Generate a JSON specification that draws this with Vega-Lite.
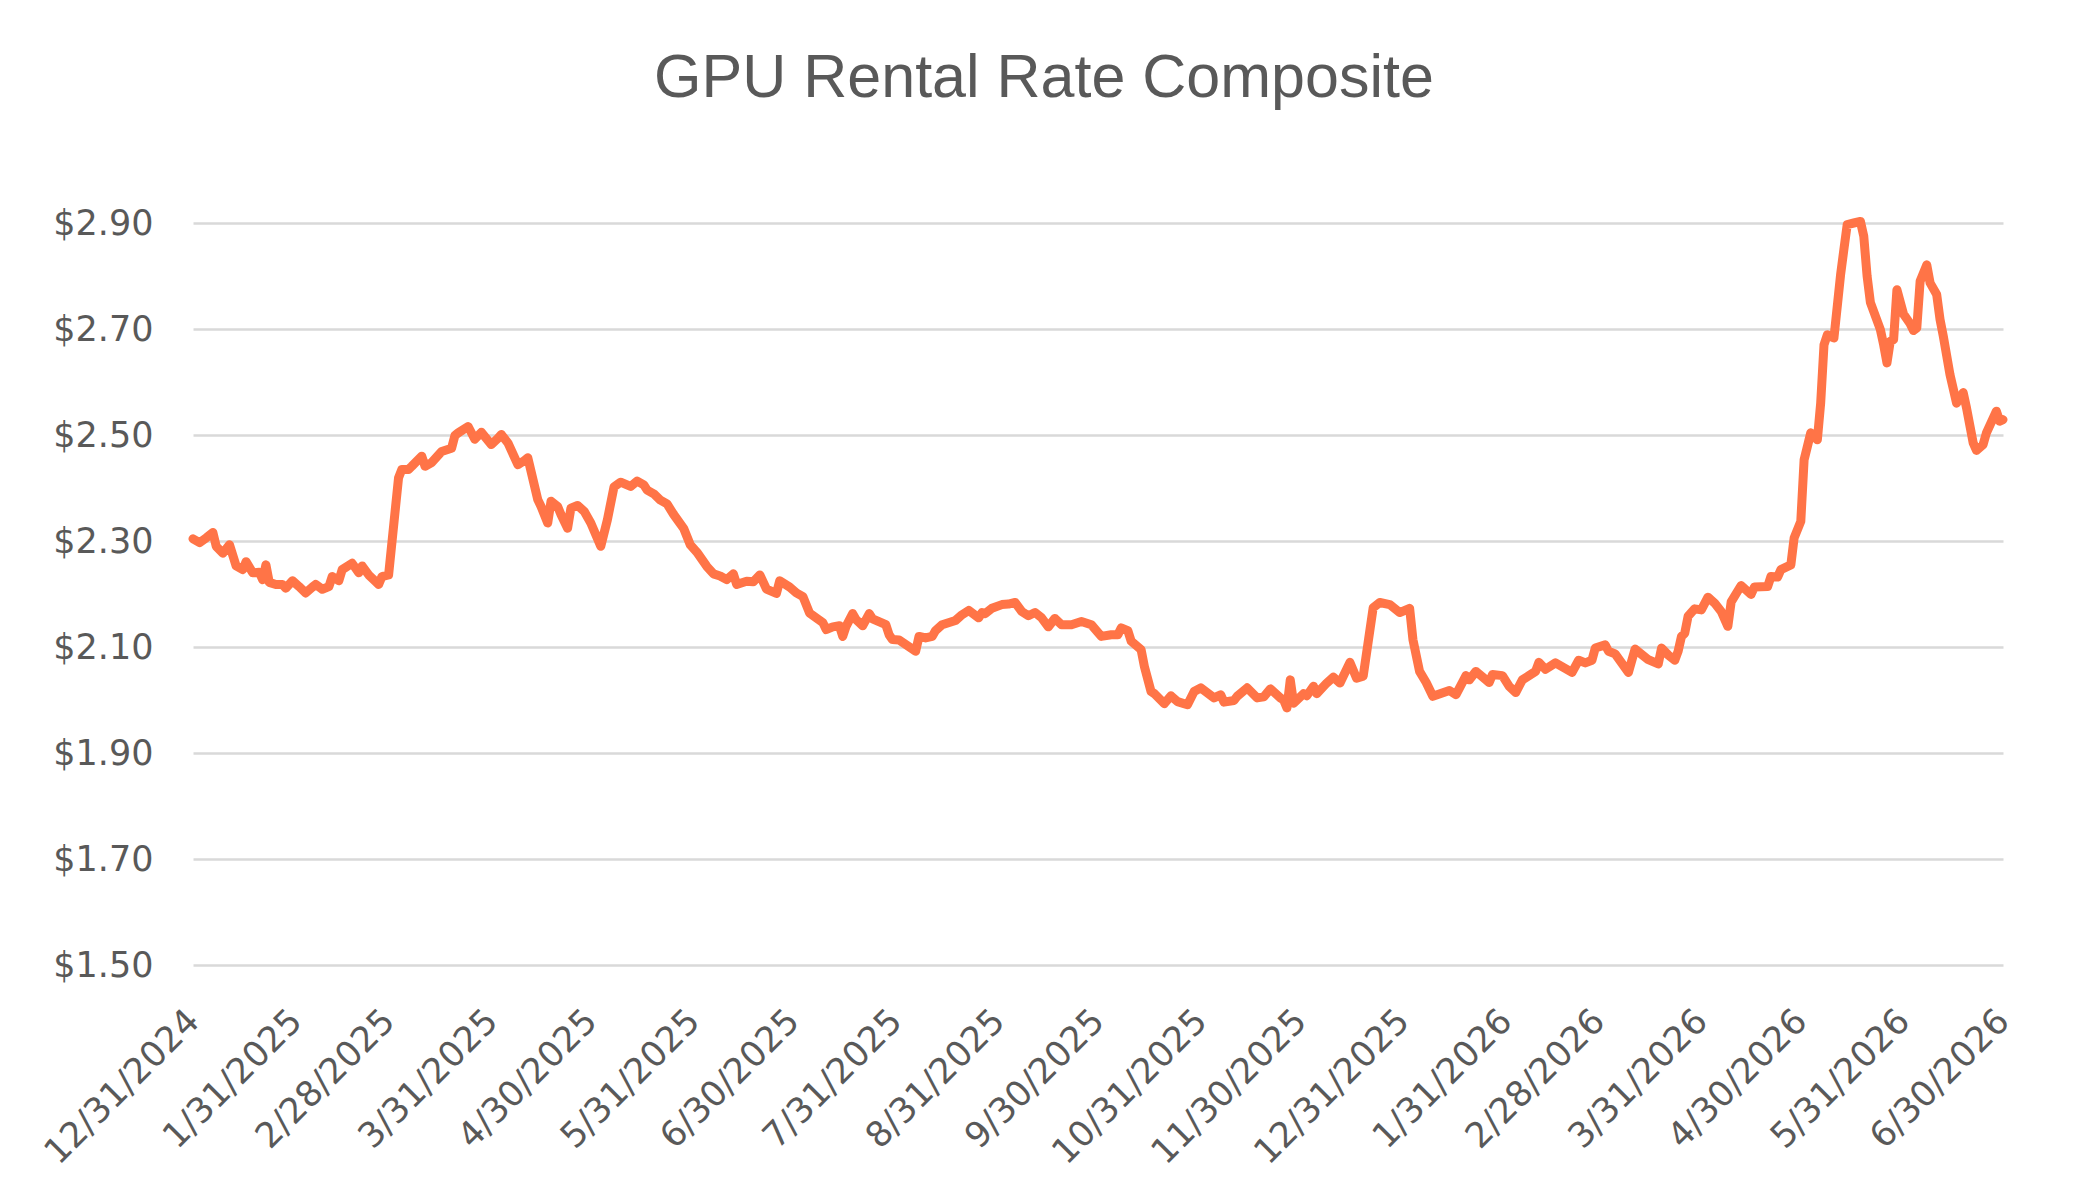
{
  "$schema": "https://vega.github.io/schema/vega-lite/v6.json",
  "width": 1810,
  "height": 742,
  "autosize": {"type": "none"},
  "padding": {"left": 193, "top": 223, "right": 85, "bottom": 236},
  "background": "white",
  "title": {
    "text": "GPU Rental Rate Composite",
    "font": "Liberation Sans",
    "fontSize": 61,
    "fontWeight": "normal",
    "color": "#595959",
    "anchor": "middle",
    "dx": -54,
    "offset": 96
  },
  "data": {
    "values": [
      {"date": "2024-12-31", "rate": 2.304},
      {"date": "2025-01-02", "rate": 2.297},
      {"date": "2025-01-04", "rate": 2.306},
      {"date": "2025-01-06", "rate": 2.316},
      {"date": "2025-01-07", "rate": 2.290},
      {"date": "2025-01-09", "rate": 2.277},
      {"date": "2025-01-11", "rate": 2.293},
      {"date": "2025-01-13", "rate": 2.253},
      {"date": "2025-01-15", "rate": 2.246},
      {"date": "2025-01-16", "rate": 2.261},
      {"date": "2025-01-18", "rate": 2.240},
      {"date": "2025-01-20", "rate": 2.241},
      {"date": "2025-01-21", "rate": 2.227},
      {"date": "2025-01-22", "rate": 2.255},
      {"date": "2025-01-23", "rate": 2.222},
      {"date": "2025-01-25", "rate": 2.218},
      {"date": "2025-01-27", "rate": 2.218},
      {"date": "2025-01-28", "rate": 2.211},
      {"date": "2025-01-30", "rate": 2.225},
      {"date": "2025-02-01", "rate": 2.214},
      {"date": "2025-02-03", "rate": 2.202},
      {"date": "2025-02-05", "rate": 2.213},
      {"date": "2025-02-06", "rate": 2.218},
      {"date": "2025-02-08", "rate": 2.209},
      {"date": "2025-02-10", "rate": 2.214},
      {"date": "2025-02-11", "rate": 2.233},
      {"date": "2025-02-13", "rate": 2.225},
      {"date": "2025-02-14", "rate": 2.246},
      {"date": "2025-02-17", "rate": 2.258},
      {"date": "2025-02-19", "rate": 2.240},
      {"date": "2025-02-20", "rate": 2.253},
      {"date": "2025-02-22", "rate": 2.236},
      {"date": "2025-02-24", "rate": 2.224},
      {"date": "2025-02-25", "rate": 2.218},
      {"date": "2025-02-26", "rate": 2.233},
      {"date": "2025-02-28", "rate": 2.236},
      {"date": "2025-03-03", "rate": 2.419},
      {"date": "2025-03-04", "rate": 2.435},
      {"date": "2025-03-06", "rate": 2.435},
      {"date": "2025-03-07", "rate": 2.441},
      {"date": "2025-03-10", "rate": 2.460},
      {"date": "2025-03-11", "rate": 2.441},
      {"date": "2025-03-13", "rate": 2.448},
      {"date": "2025-03-16", "rate": 2.469},
      {"date": "2025-03-19", "rate": 2.475},
      {"date": "2025-03-20", "rate": 2.499},
      {"date": "2025-03-21", "rate": 2.504},
      {"date": "2025-03-24", "rate": 2.516},
      {"date": "2025-03-26", "rate": 2.492},
      {"date": "2025-03-28", "rate": 2.505},
      {"date": "2025-03-31", "rate": 2.482},
      {"date": "2025-04-02", "rate": 2.494},
      {"date": "2025-04-03", "rate": 2.501},
      {"date": "2025-04-05", "rate": 2.485},
      {"date": "2025-04-08", "rate": 2.444},
      {"date": "2025-04-10", "rate": 2.452},
      {"date": "2025-04-11", "rate": 2.457},
      {"date": "2025-04-14", "rate": 2.378},
      {"date": "2025-04-15", "rate": 2.365},
      {"date": "2025-04-17", "rate": 2.334},
      {"date": "2025-04-18", "rate": 2.375},
      {"date": "2025-04-20", "rate": 2.365},
      {"date": "2025-04-21", "rate": 2.350},
      {"date": "2025-04-23", "rate": 2.324},
      {"date": "2025-04-24", "rate": 2.362},
      {"date": "2025-04-26", "rate": 2.367},
      {"date": "2025-04-28", "rate": 2.356},
      {"date": "2025-04-30", "rate": 2.334},
      {"date": "2025-05-03", "rate": 2.290},
      {"date": "2025-05-05", "rate": 2.340},
      {"date": "2025-05-07", "rate": 2.402},
      {"date": "2025-05-09", "rate": 2.411},
      {"date": "2025-05-12", "rate": 2.403},
      {"date": "2025-05-14", "rate": 2.413},
      {"date": "2025-05-16", "rate": 2.406},
      {"date": "2025-05-17", "rate": 2.396},
      {"date": "2025-05-19", "rate": 2.389},
      {"date": "2025-05-21", "rate": 2.377},
      {"date": "2025-05-23", "rate": 2.370},
      {"date": "2025-05-25", "rate": 2.350},
      {"date": "2025-05-28", "rate": 2.324},
      {"date": "2025-05-30", "rate": 2.293},
      {"date": "2025-06-01", "rate": 2.279},
      {"date": "2025-06-04", "rate": 2.252},
      {"date": "2025-06-06", "rate": 2.238},
      {"date": "2025-06-08", "rate": 2.234},
      {"date": "2025-06-10", "rate": 2.227},
      {"date": "2025-06-12", "rate": 2.238},
      {"date": "2025-06-13", "rate": 2.218},
      {"date": "2025-06-16", "rate": 2.224},
      {"date": "2025-06-18", "rate": 2.223},
      {"date": "2025-06-20", "rate": 2.236},
      {"date": "2025-06-22", "rate": 2.209},
      {"date": "2025-06-25", "rate": 2.201},
      {"date": "2025-06-26", "rate": 2.225},
      {"date": "2025-06-29", "rate": 2.213},
      {"date": "2025-07-01", "rate": 2.202},
      {"date": "2025-07-03", "rate": 2.195},
      {"date": "2025-07-05", "rate": 2.164},
      {"date": "2025-07-07", "rate": 2.155},
      {"date": "2025-07-09", "rate": 2.146},
      {"date": "2025-07-10", "rate": 2.133},
      {"date": "2025-07-12", "rate": 2.138},
      {"date": "2025-07-14", "rate": 2.140},
      {"date": "2025-07-15", "rate": 2.120},
      {"date": "2025-07-16", "rate": 2.139},
      {"date": "2025-07-18", "rate": 2.163},
      {"date": "2025-07-19", "rate": 2.152},
      {"date": "2025-07-21", "rate": 2.140},
      {"date": "2025-07-23", "rate": 2.163},
      {"date": "2025-07-24", "rate": 2.153},
      {"date": "2025-07-28", "rate": 2.142},
      {"date": "2025-07-29", "rate": 2.123},
      {"date": "2025-07-30", "rate": 2.114},
      {"date": "2025-08-01", "rate": 2.113},
      {"date": "2025-08-06", "rate": 2.092},
      {"date": "2025-08-07", "rate": 2.120},
      {"date": "2025-08-09", "rate": 2.117},
      {"date": "2025-08-11", "rate": 2.120},
      {"date": "2025-08-12", "rate": 2.131},
      {"date": "2025-08-14", "rate": 2.142},
      {"date": "2025-08-18", "rate": 2.150},
      {"date": "2025-08-20", "rate": 2.161},
      {"date": "2025-08-22", "rate": 2.169},
      {"date": "2025-08-25", "rate": 2.155},
      {"date": "2025-08-26", "rate": 2.165},
      {"date": "2025-08-27", "rate": 2.163},
      {"date": "2025-08-29", "rate": 2.173},
      {"date": "2025-09-01", "rate": 2.180},
      {"date": "2025-09-03", "rate": 2.181},
      {"date": "2025-09-05", "rate": 2.184},
      {"date": "2025-09-07", "rate": 2.167},
      {"date": "2025-09-09", "rate": 2.159},
      {"date": "2025-09-11", "rate": 2.165},
      {"date": "2025-09-13", "rate": 2.155},
      {"date": "2025-09-15", "rate": 2.138},
      {"date": "2025-09-17", "rate": 2.154},
      {"date": "2025-09-19", "rate": 2.142},
      {"date": "2025-09-22", "rate": 2.142},
      {"date": "2025-09-25", "rate": 2.148},
      {"date": "2025-09-28", "rate": 2.142},
      {"date": "2025-10-01", "rate": 2.120},
      {"date": "2025-10-04", "rate": 2.123},
      {"date": "2025-10-06", "rate": 2.123},
      {"date": "2025-10-07", "rate": 2.136},
      {"date": "2025-10-09", "rate": 2.131},
      {"date": "2025-10-10", "rate": 2.111},
      {"date": "2025-10-13", "rate": 2.095},
      {"date": "2025-10-14", "rate": 2.063},
      {"date": "2025-10-16", "rate": 2.016},
      {"date": "2025-10-17", "rate": 2.012},
      {"date": "2025-10-20", "rate": 1.993},
      {"date": "2025-10-22", "rate": 2.008},
      {"date": "2025-10-24", "rate": 1.997},
      {"date": "2025-10-27", "rate": 1.991},
      {"date": "2025-10-29", "rate": 2.016},
      {"date": "2025-10-31", "rate": 2.023},
      {"date": "2025-11-04", "rate": 2.004},
      {"date": "2025-11-06", "rate": 2.010},
      {"date": "2025-11-07", "rate": 1.996},
      {"date": "2025-11-10", "rate": 1.999},
      {"date": "2025-11-11", "rate": 2.007},
      {"date": "2025-11-14", "rate": 2.023},
      {"date": "2025-11-17", "rate": 2.004},
      {"date": "2025-11-19", "rate": 2.006},
      {"date": "2025-11-21", "rate": 2.021},
      {"date": "2025-11-24", "rate": 2.004},
      {"date": "2025-11-25", "rate": 2.000},
      {"date": "2025-11-26", "rate": 1.985},
      {"date": "2025-11-27", "rate": 2.038},
      {"date": "2025-11-28", "rate": 1.994},
      {"date": "2025-12-01", "rate": 2.012},
      {"date": "2025-12-02", "rate": 2.008},
      {"date": "2025-12-04", "rate": 2.026},
      {"date": "2025-12-05", "rate": 2.012},
      {"date": "2025-12-08", "rate": 2.032},
      {"date": "2025-12-10", "rate": 2.043},
      {"date": "2025-12-12", "rate": 2.032},
      {"date": "2025-12-15", "rate": 2.071},
      {"date": "2025-12-17", "rate": 2.041},
      {"date": "2025-12-19", "rate": 2.045},
      {"date": "2025-12-22", "rate": 2.174},
      {"date": "2025-12-24", "rate": 2.184},
      {"date": "2025-12-27", "rate": 2.180},
      {"date": "2025-12-30", "rate": 2.165},
      {"date": "2026-01-02", "rate": 2.173},
      {"date": "2026-01-03", "rate": 2.114},
      {"date": "2026-01-05", "rate": 2.054},
      {"date": "2026-01-07", "rate": 2.033},
      {"date": "2026-01-09", "rate": 2.007},
      {"date": "2026-01-14", "rate": 2.018},
      {"date": "2026-01-16", "rate": 2.010},
      {"date": "2026-01-19", "rate": 2.046},
      {"date": "2026-01-20", "rate": 2.038},
      {"date": "2026-01-22", "rate": 2.054},
      {"date": "2026-01-26", "rate": 2.033},
      {"date": "2026-01-27", "rate": 2.048},
      {"date": "2026-01-30", "rate": 2.046},
      {"date": "2026-02-01", "rate": 2.026},
      {"date": "2026-02-03", "rate": 2.014},
      {"date": "2026-02-05", "rate": 2.038},
      {"date": "2026-02-07", "rate": 2.046},
      {"date": "2026-02-09", "rate": 2.054},
      {"date": "2026-02-10", "rate": 2.071},
      {"date": "2026-02-12", "rate": 2.058},
      {"date": "2026-02-15", "rate": 2.070},
      {"date": "2026-02-20", "rate": 2.052},
      {"date": "2026-02-22", "rate": 2.075},
      {"date": "2026-02-24", "rate": 2.070},
      {"date": "2026-02-26", "rate": 2.075},
      {"date": "2026-02-27", "rate": 2.098},
      {"date": "2026-03-02", "rate": 2.104},
      {"date": "2026-03-03", "rate": 2.092},
      {"date": "2026-03-05", "rate": 2.087},
      {"date": "2026-03-09", "rate": 2.052},
      {"date": "2026-03-11", "rate": 2.096},
      {"date": "2026-03-15", "rate": 2.076},
      {"date": "2026-03-18", "rate": 2.068},
      {"date": "2026-03-19", "rate": 2.098},
      {"date": "2026-03-21", "rate": 2.085},
      {"date": "2026-03-23", "rate": 2.075},
      {"date": "2026-03-24", "rate": 2.092},
      {"date": "2026-03-25", "rate": 2.120},
      {"date": "2026-03-26", "rate": 2.126},
      {"date": "2026-03-27", "rate": 2.158},
      {"date": "2026-03-29", "rate": 2.172},
      {"date": "2026-03-31", "rate": 2.170},
      {"date": "2026-04-02", "rate": 2.194},
      {"date": "2026-04-04", "rate": 2.183},
      {"date": "2026-04-06", "rate": 2.167},
      {"date": "2026-04-08", "rate": 2.139},
      {"date": "2026-04-09", "rate": 2.185},
      {"date": "2026-04-12", "rate": 2.216},
      {"date": "2026-04-15", "rate": 2.199},
      {"date": "2026-04-16", "rate": 2.213},
      {"date": "2026-04-20", "rate": 2.214},
      {"date": "2026-04-21", "rate": 2.233},
      {"date": "2026-04-23", "rate": 2.232},
      {"date": "2026-04-24", "rate": 2.246},
      {"date": "2026-04-27", "rate": 2.255},
      {"date": "2026-04-28", "rate": 2.306},
      {"date": "2026-04-30", "rate": 2.337},
      {"date": "2026-05-01", "rate": 2.453},
      {"date": "2026-05-03", "rate": 2.504},
      {"date": "2026-05-05", "rate": 2.491},
      {"date": "2026-05-06", "rate": 2.560},
      {"date": "2026-05-07", "rate": 2.670},
      {"date": "2026-05-08", "rate": 2.689},
      {"date": "2026-05-10", "rate": 2.683},
      {"date": "2026-05-12", "rate": 2.802},
      {"date": "2026-05-13", "rate": 2.850},
      {"date": "2026-05-14", "rate": 2.897},
      {"date": "2026-05-16", "rate": 2.900},
      {"date": "2026-05-18", "rate": 2.903},
      {"date": "2026-05-19", "rate": 2.875},
      {"date": "2026-05-20", "rate": 2.800},
      {"date": "2026-05-21", "rate": 2.750},
      {"date": "2026-05-24", "rate": 2.699},
      {"date": "2026-05-25", "rate": 2.670},
      {"date": "2026-05-26", "rate": 2.636},
      {"date": "2026-05-27", "rate": 2.677},
      {"date": "2026-05-28", "rate": 2.680},
      {"date": "2026-05-29", "rate": 2.774},
      {"date": "2026-05-31", "rate": 2.728},
      {"date": "2026-06-02", "rate": 2.710},
      {"date": "2026-06-03", "rate": 2.697},
      {"date": "2026-06-04", "rate": 2.702},
      {"date": "2026-06-05", "rate": 2.790},
      {"date": "2026-06-07", "rate": 2.821},
      {"date": "2026-06-08", "rate": 2.787},
      {"date": "2026-06-10", "rate": 2.765},
      {"date": "2026-06-11", "rate": 2.718},
      {"date": "2026-06-12", "rate": 2.686},
      {"date": "2026-06-14", "rate": 2.614},
      {"date": "2026-06-16", "rate": 2.560},
      {"date": "2026-06-18", "rate": 2.580},
      {"date": "2026-06-19", "rate": 2.551},
      {"date": "2026-06-21", "rate": 2.485},
      {"date": "2026-06-22", "rate": 2.471},
      {"date": "2026-06-24", "rate": 2.482},
      {"date": "2026-06-25", "rate": 2.504},
      {"date": "2026-06-28", "rate": 2.545},
      {"date": "2026-06-29", "rate": 2.526},
      {"date": "2026-06-30", "rate": 2.529}
    ]
  },
  "mark": {
    "type": "line",
    "color": "#FF7447",
    "strokeWidth": 9,
    "strokeJoin": "round",
    "strokeCap": "round",
    "clip": false
  },
  "encoding": {
    "x": {
      "field": "date",
      "type": "temporal",
      "scale": {
        "type": "utc",
        "nice": false,
        "domain": [
          {"year": 2024, "month": 12, "date": 31, "utc": true},
          {"year": 2026, "month": 6, "date": 30, "utc": true}
        ]
      },
      "axis": {
        "title": null,
        "format": "%-m/%-d/%Y",
        "values": [
          {"year": 2024, "month": 12, "date": 31, "utc": true},
          {"year": 2025, "month": 1, "date": 31, "utc": true},
          {"year": 2025, "month": 2, "date": 28, "utc": true},
          {"year": 2025, "month": 3, "date": 31, "utc": true},
          {"year": 2025, "month": 4, "date": 30, "utc": true},
          {"year": 2025, "month": 5, "date": 31, "utc": true},
          {"year": 2025, "month": 6, "date": 30, "utc": true},
          {"year": 2025, "month": 7, "date": 31, "utc": true},
          {"year": 2025, "month": 8, "date": 31, "utc": true},
          {"year": 2025, "month": 9, "date": 30, "utc": true},
          {"year": 2025, "month": 10, "date": 31, "utc": true},
          {"year": 2025, "month": 11, "date": 30, "utc": true},
          {"year": 2025, "month": 12, "date": 31, "utc": true},
          {"year": 2026, "month": 1, "date": 31, "utc": true},
          {"year": 2026, "month": 2, "date": 28, "utc": true},
          {"year": 2026, "month": 3, "date": 31, "utc": true},
          {"year": 2026, "month": 4, "date": 30, "utc": true},
          {"year": 2026, "month": 5, "date": 31, "utc": true},
          {"year": 2026, "month": 6, "date": 30, "utc": true}
        ],
        "labelAngle": -45,
        "labelAlign": "right",
        "labelBaseline": "middle",
        "labelPadding": 50,
        "labelLimit": 400,
        "labelOverlap": false,
        "labelFlush": false,
        "labelBound": false,
        "grid": false,
        "domain": false,
        "ticks": false,
        "tickSize": 0
      }
    },
    "y": {
      "field": "rate",
      "type": "quantitative",
      "scale": {"domain": [1.5, 2.9], "nice": false, "zero": false},
      "axis": {
        "title": null,
        "values": [1.5, 1.7, 1.9, 2.1, 2.3, 2.5, 2.7, 2.9],
        "format": "$.2f",
        "labelPadding": 40,
        "grid": true,
        "gridColor": "#D9D9D9",
        "gridWidth": 2.5,
        "domain": false,
        "ticks": false,
        "tickSize": 0
      }
    }
  },
  "config": {
    "view": {"stroke": null},
    "axis": {
      "labelFont": "DejaVu Sans",
      "labelFontSize": 35,
      "labelColor": "#595959"
    }
  }
}
